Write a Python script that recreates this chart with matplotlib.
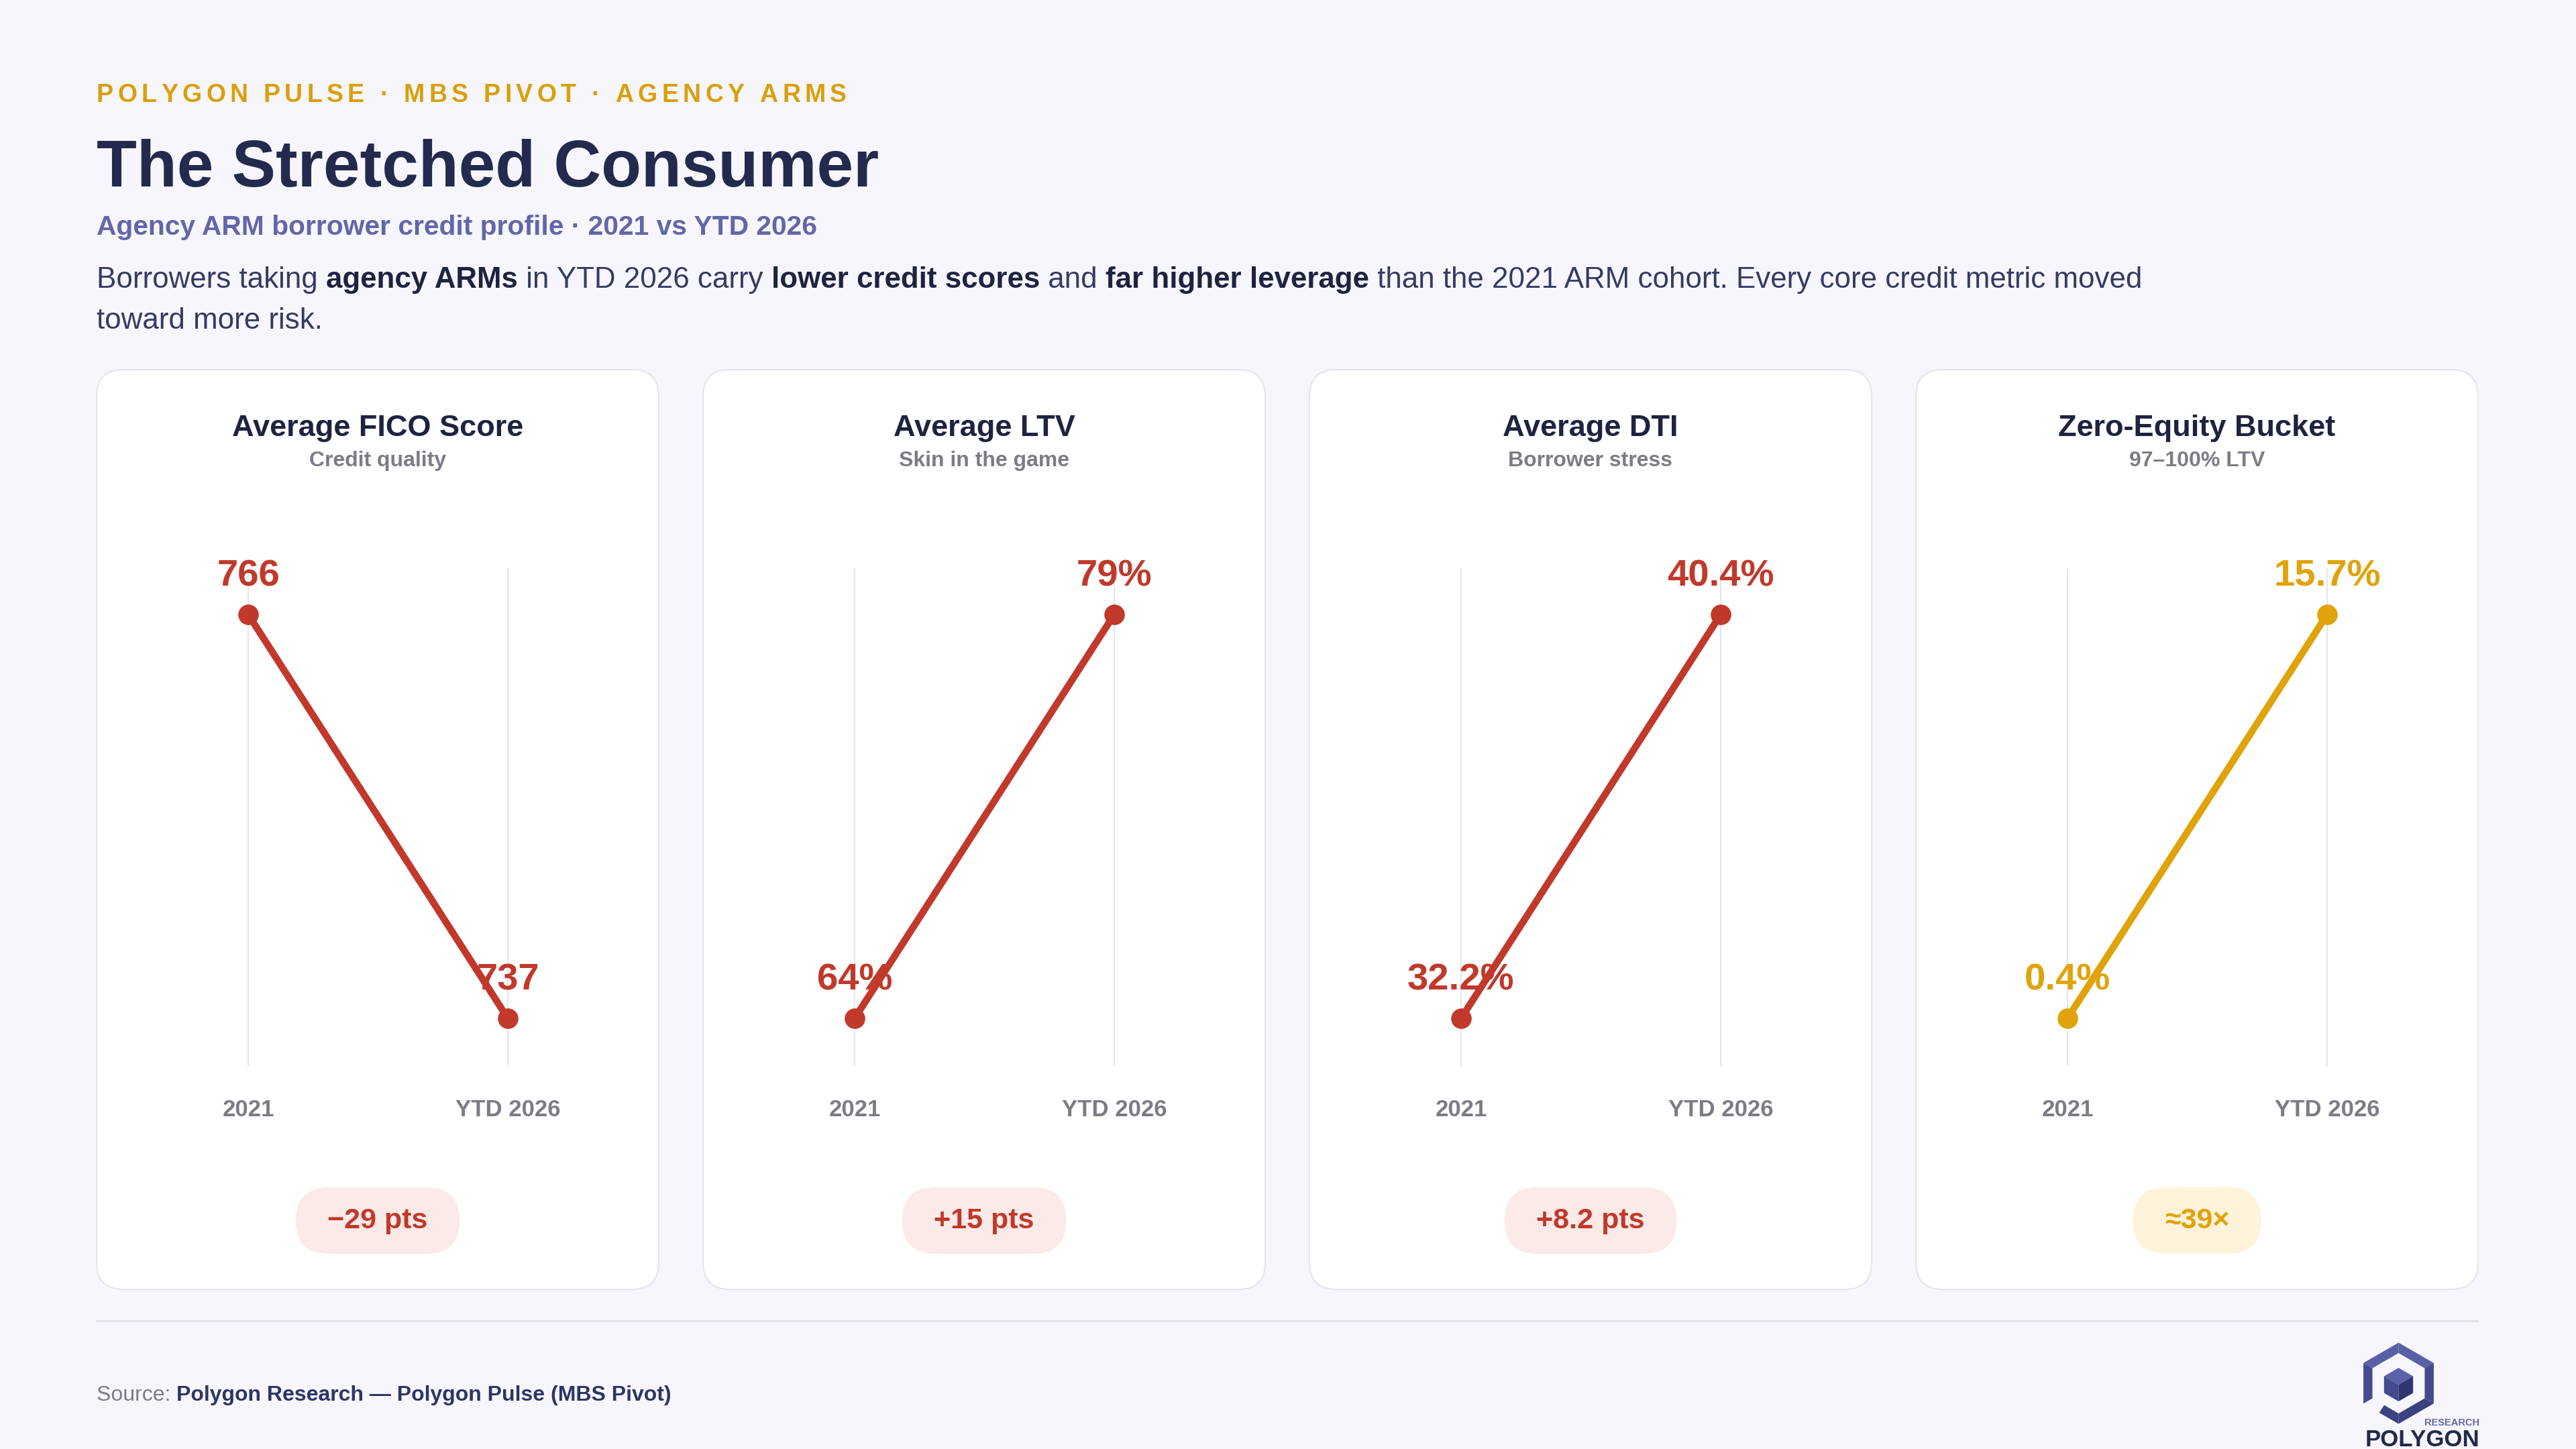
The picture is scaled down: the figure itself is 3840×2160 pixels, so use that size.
import matplotlib
matplotlib.use('Agg')
import matplotlib.pyplot as plt
from matplotlib.patches import FancyBboxPatch, Polygon
import numpy as np

plt.rcParams['font.family'] = ['Liberation Sans', 'DejaVu Sans']

# data
metrics = ['Average FICO Score', 'Average LTV', 'Average DTI', 'Zero-Equity Bucket']
notes = ['Credit quality', 'Skin in the game', 'Borrower stress', '97–100% LTV']
periods = ['2021', 'YTD 2026']
vals_2021 = [766, 64, 32.2, 0.4]
vals_2026 = [737, 79, 40.4, 15.7]
fmts = ['{:.0f}', '{:.0f}%', '{:.1f}%', '{:.1f}%']
changes = ['−29 pts', '+15 pts', '+8.2 pts', '≈39×']

RED, RED_BG = '#C0392B', '#FBEAE8'
GOLD, GOLD_BG = '#E0A30B', '#FDF3DB'
line_colors = [RED, RED, RED, GOLD]
pill_colors = [RED_BG, RED_BG, RED_BG, GOLD_BG]
NAVY = '#232A4D'
GRAY = '#7B7C86'
BG = '#F6F6FC'

W, H = 3840, 2160
fig = plt.figure(figsize=(W / 100, H / 100), dpi=100, facecolor=BG)
r = fig.canvas.get_renderer()

# full-figure overlay in pixel coordinates (y down)
ov = fig.add_axes([0, 0, 1, 1], zorder=0)
ov.set_xlim(0, W)
ov.set_ylim(H, 0)
ov.axis('off')

def px(v):
    return v * 0.72

def text_w(s, **kw):
    t = ov.text(0, 0, '|' + s + '|', **kw)
    w1 = t.get_window_extent(r).width
    t.set_text('||')
    w2 = t.get_window_extent(r).width
    t.remove()
    return w1 - w2

def runs(x, y, parts):
    for s, kw in parts:
        ov.text(x, y, s, va='baseline', ha='left', **kw)
        x += text_w(s, **kw)

# kicker with letter spacing
kicker = 'POLYGON PULSE · MBS PIVOT · AGENCY ARMS'
kkw = dict(fontsize=27, fontweight='bold', color='#D9A00C')
widths = [text_w(c, **kkw) for c in kicker]
gap = (1118 - sum(widths)) / (len(kicker) - 1)
x = 144
for c, w in zip(kicker, widths):
    ov.text(x, 152, c, va='baseline', ha='left', **kkw)
    x += w + gap

ov.text(144, 278, 'The Stretched Consumer', fontsize=70.6, fontweight='bold',
        color=NAVY, va='baseline')
ov.text(144, 350, 'Agency ARM borrower credit profile · 2021 vs YTD 2026',
        fontsize=29.3, fontweight='bold', color='#6366A8', va='baseline')

nk = dict(fontsize=31.6, color='#363B63')
bk = dict(fontsize=31.6, color='#1E2340', fontweight='bold')
runs(144, 429, [('Borrowers taking ', nk), ('agency ARMs', bk),
                (' in YTD 2026 carry ', nk), ('lower credit scores', bk),
                (' and ', nk), ('far higher leverage', bk),
                (' than the 2021 ARM cohort. Every core credit metric moved', nk)])
runs(144, 490, [('toward more risk.', nk)])

# cards
card_w, card_gap = 838, 66
top, bottom = 551, 1922
for i in range(4):
    left = 144 + i * (card_w + card_gap)
    cx = left + card_w / 2
    ov.add_patch(FancyBboxPatch((left, top), card_w, bottom - top,
                                boxstyle='round,pad=0,rounding_size=40',
                                fc='#FFFFFF', ec='#E4E5EE', lw=1.5))
    ov.text(cx, 650, metrics[i], fontsize=32.5, fontweight='bold', color='#1E2340',
            ha='center', va='baseline')
    ov.text(cx, 695, notes[i], fontsize=23, fontweight='bold', color=GRAY,
            ha='center', va='baseline')

    # slope chart
    ax = fig.add_axes([left / W, (H - 1590) / H, card_w / W, 743 / H], zorder=2)
    ax.patch.set_alpha(0)
    for sp in ax.spines.values():
        sp.set_visible(False)
    ax.set_xticks([])
    ax.set_yticks([])
    y = [vals_2021[i], vals_2026[i]]
    lo, hi = min(y), max(y)
    span = hi - lo
    ax.set_xlim(-226 / 387, (card_w - 226) / 387)
    ax.set_ylim(lo - 72 / 602 * span, hi + 69 / 602 * span)
    for xi in range(2):
        ax.axvline(xi, color='#E4E5EC', lw=1.4, zorder=1)
    ax.plot([0, 1], y, color=line_colors[i], lw=7.5, marker='o', markersize=21,
            solid_capstyle='round', zorder=3)
    for xi in range(2):
        ax.annotate(fmts[i].format(y[xi]), (xi, y[xi]), xytext=(0, px(57)),
                    textcoords='offset points', ha='center', va='center',
                    fontsize=40.5, fontweight='bold', color=line_colors[i], zorder=4)
        ax.annotate(periods[xi], (xi, 0), xycoords=('data', 'axes fraction'),
                    xytext=(0, -px(65)), textcoords='offset points',
                    ha='center', va='center', fontsize=25, fontweight='bold',
                    color=GRAY)

    # change pill
    pkw = dict(fontsize=31, fontweight='bold', color=line_colors[i])
    pw = text_w(changes[i], **pkw) + 95
    ov.add_patch(FancyBboxPatch((cx - pw / 2, 1770), pw, 99,
                                boxstyle='round,pad=0,rounding_size=49.5',
                                fc=pill_colors[i], ec='none'))
    ov.text(cx, 1820, changes[i], ha='center', va='center', **pkw)

# footer
ov.plot([144, 3693], [1969, 1969], color='#E2E3EB', lw=2)
runs(144, 2088, [('Source: ', dict(fontsize=23, color=GRAY)),
                 ('Polygon Research — Polygon Pulse (MBS Pivot)',
                  dict(fontsize=23, fontweight='bold', color='#2E3566'))])

# logo
lcx, lcy, ro, ri = 3575.5, 2062, 60.5, 45
ang = np.radians([90, 30, -30, -90, -150, 150])
outer = [(lcx + ro * np.cos(a), lcy - ro * np.sin(a)) for a in ang]
inner = [(lcx + ri * np.cos(a), lcy - ri * np.sin(a)) for a in ang]
shade = ['#5860A6', '#434B8E', '#3A427F', None, '#434B8E', '#5860A6']
for k in range(6):
    j = (k + 1) % 6
    if k == 3:
        # partial lower-left edge (the "P" foot)
        f = 0.55
        o2 = (outer[3][0] + f * (outer[4][0] - outer[3][0]), outer[3][1] + f * (outer[4][1] - outer[3][1]))
        i2 = (inner[3][0] + f * (inner[4][0] - inner[3][0]), inner[3][1] + f * (inner[4][1] - inner[3][1]))
        ov.add_patch(Polygon([outer[3], o2, i2, inner[3]], closed=True, fc='#3A427F', ec='none'))
        continue
    ov.add_patch(Polygon([outer[k], outer[j], inner[j], inner[k]], closed=True,
                         fc=shade[k], ec='none'))
rc = 25
cube = [(lcx + rc * np.cos(a), lcy + 2 - rc * np.sin(a)) for a in ang]
c0 = (lcx, lcy + 2)
ov.add_patch(Polygon([cube[5], cube[0], cube[1], c0], closed=True, fc='#5A62A8', ec='none'))
ov.add_patch(Polygon([cube[4], cube[5], c0, cube[3]], closed=True, fc='#434B8E', ec='none'))
ov.add_patch(Polygon([c0, cube[1], cube[2], cube[3]], closed=True, fc='#2F3670', ec='none'))
ov.text(3696, 2125, 'RESEARCH', fontsize=10.5, fontweight='bold', color='#6366A8',
        ha='right', va='baseline')
ov.text(3696, 2156, 'POLYGON', fontsize=25, fontweight='bold', color='#23294A',
        ha='right', va='baseline')

fig.savefig('out.png', dpi=100, facecolor=BG)
